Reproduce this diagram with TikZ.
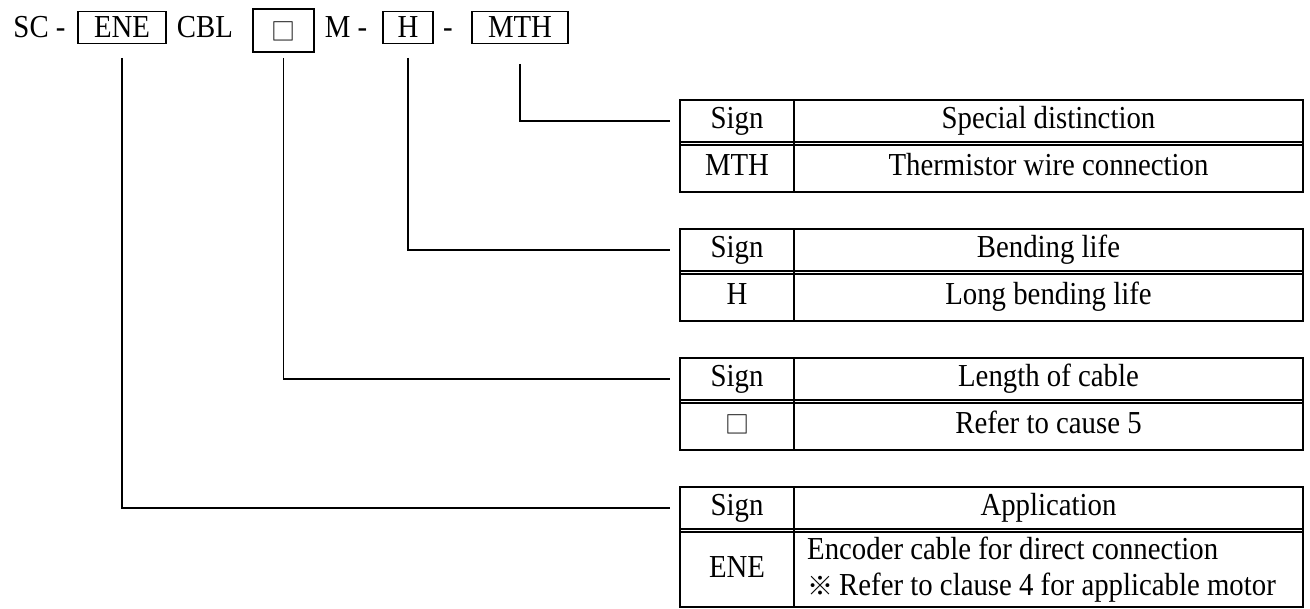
\documentclass[tikz,border=0pt]{standalone}
\usepackage{fontspec}
\setmainfont{Liberation Serif}[FakeStretch=0.9]
\newfontfamily\cjkfont{Noto Sans CJK JP}
\usepackage{tikz}
\newcommand{\sqmark}{{\cjkfont\fontsize{24}{28}\selectfont □}}
\newcommand{\refmark}{{\cjkfont\fontsize{26}{30}\selectfont ※}}

\begin{document}
\begin{tikzpicture}[x=1pt,y=-1pt,font=\fontsize{32}{36}\selectfont]
\tikzstyle{codetxt}=[draw=none, inner sep=0pt, text height=21pt, text depth=0pt]
\tikzstyle{codebox}=[draw, line width=1.7pt, inner sep=0pt, minimum height=32pt, text height=21pt, text depth=0pt]
\tikzstyle{cellbase}=[draw, line width=1.8pt, inner sep=0pt, outer sep=0pt]
\tikzstyle{cell}=[cellbase, text height=22pt, text depth=7pt]
\tikzstyle{signcell}=[cell, minimum width=114pt]
\tikzstyle{desccell}=[cell, minimum width=509pt]
\tikzstyle{hdrrow}=[minimum height=42pt]
\tikzstyle{valrow}=[minimum height=47pt]
\tikzstyle{frame}=[line width=1.8pt]
\tikzstyle{conn}=[line width=1.6pt]
\useasboundingbox (0,0) rectangle (1310,609);
%
\node[codetxt](sc) at (39.5,27.5){SC -};
\node[codebox, minimum width=88pt](ene) at (122,27.5){ENE};
\node[codetxt](cbl) at (205,27.5){CBL};
\node[codebox, minimum width=61pt, minimum height=43pt](len) at (283.5,30.5){\sqmark};
\node[codetxt](mdash) at (346,27.5){M -};
\node[codebox, minimum width=50pt](bend) at (408,27.5){H};
\node[codetxt](dash) at (448,27.5){-};
\node[codebox, minimum width=96pt](spec) at (520,27.5){MTH};
%
\node[signcell, hdrrow](mths) at (737,121){Sign};
\node[desccell, hdrrow](mtht) at (1048.5,121){Special distinction};
\node[signcell, valrow](mthv) at (737,168.5){MTH};
\node[desccell, valrow](mthd) at (1048.5,168.5){Thermistor wire connection};
\draw[frame] (mths.north west) rectangle (mthd.south east);
\draw[frame] (mths.north east) -- (mthv.south east);
%
\node[signcell, hdrrow](bends) at (737,250){Sign};
\node[desccell, hdrrow](bendt) at (1048.5,250){Bending life};
\node[signcell, valrow](bendv) at (737,297.5){H};
\node[desccell, valrow](bendd) at (1048.5,297.5){Long bending life};
\draw[frame] (bends.north west) rectangle (bendd.south east);
\draw[frame] (bends.north east) -- (bendv.south east);
%
\node[signcell, hdrrow](lens) at (737,379){Sign};
\node[desccell, hdrrow](lent) at (1048.5,379){Length of cable};
\node[signcell, valrow](lenv) at (737,426.5){\sqmark};
\node[desccell, valrow](lend) at (1048.5,426.5){Refer to cause 5};
\draw[frame] (lens.north west) rectangle (lend.south east);
\draw[frame] (lens.north east) -- (lenv.south east);
%
\node[signcell, hdrrow](enes) at (737,508){Sign};
\node[desccell, hdrrow](enet) at (1048.5,508){Application};
\node[signcell, minimum height=75pt](enev) at (737,569.5){ENE};
\node[cellbase, minimum width=509pt, minimum height=75pt](ened) at (1048.5,569.5){};
\node[inner sep=0pt, anchor=west, align=left](enetxt) at ([xshift=13pt]ened.west){Encoder cable for direct connection\\\refmark\hspace{6pt}Refer to clause 4 for applicable motor};
\draw[frame] (enes.north west) rectangle (ened.south east);
\draw[frame] (enes.north east) -- (enev.south east);
%
\coordinate (spectop) at (520,64);
\coordinate (bendtop) at (408,58);
\coordinate (lentop) at (283.5,58);
\coordinate (enetop) at (122,58);
\draw[conn] (spectop) |- ([xshift=-10pt]mths.west);
\draw[conn] (bendtop) |- ([xshift=-10pt]bends.west);
\draw[conn] (lentop) |- ([xshift=-10pt]lens.west);
\draw[conn] (enetop) |- ([xshift=-10pt]enes.west);
%
\end{tikzpicture}
\end{document}
